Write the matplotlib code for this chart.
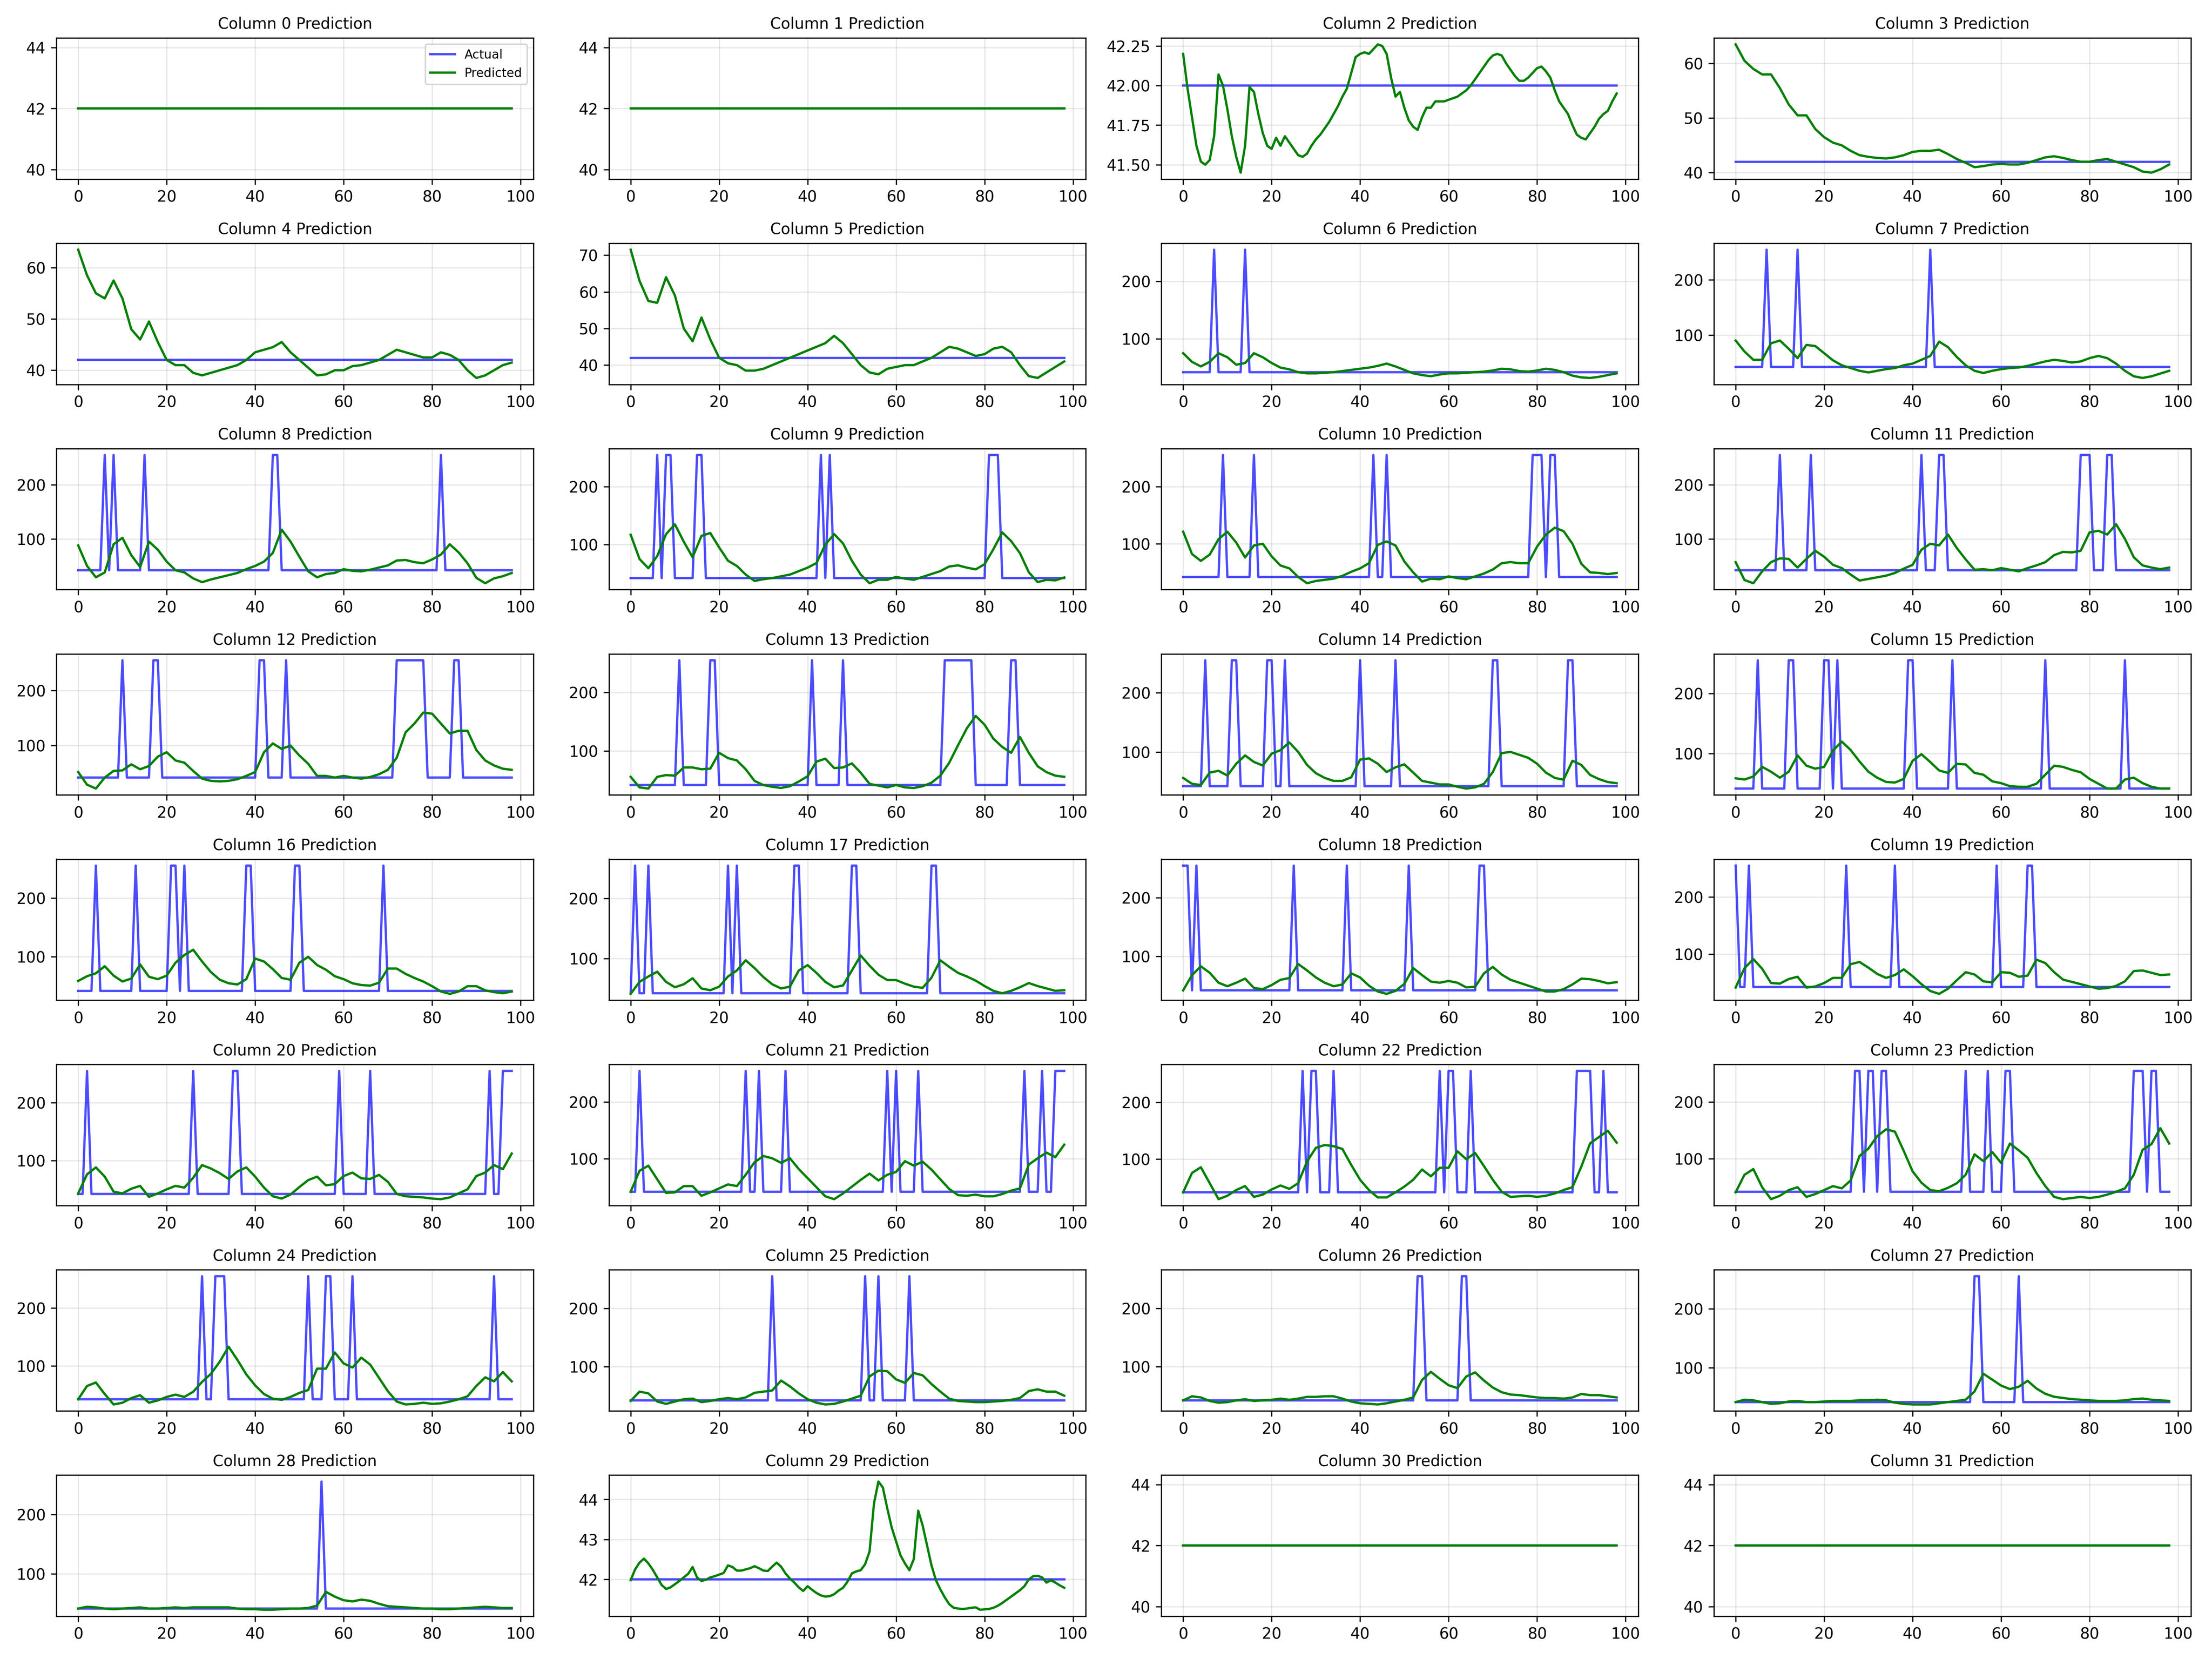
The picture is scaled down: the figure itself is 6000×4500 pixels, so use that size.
import numpy as np
import matplotlib.pyplot as plt


# Series length and the two levels of the "actual" signal
N_STEPS = 99
BASELINE = 42.0
PEAK = 255.0

# Time steps where the actual value jumps to PEAK (everything else is BASELINE)
spikes_00 = []
spikes_01 = []
spikes_02 = []
spikes_03 = []
spikes_04 = []
spikes_05 = []
spikes_06 = [7, 14]
spikes_07 = [7, 14, 44]
spikes_08 = [6, 8, 15, 44, 45, 82]
spikes_09 = [6, 8, 9, 15, 16, 43, 45, 81, 82, 83]
spikes_10 = [9, 16, 43, 46, 79, 80, 81, 83, 84]
spikes_11 = [10, 17, 42, 46, 47, 78, 79, 80, 84, 85]
spikes_12 = [10, 17, 18, 41, 42, 47, 72, 73, 74, 75, 76, 77, 78, 85, 86]
spikes_13 = [11, 18, 19, 41, 48, 71, 72, 73, 74, 75, 76, 77, 86, 87]
spikes_14 = [5, 11, 12, 19, 20, 23, 40, 48, 70, 71, 87, 88]
spikes_15 = [5, 12, 13, 20, 21, 23, 39, 40, 49, 70, 88]
spikes_16 = [4, 13, 21, 22, 24, 38, 39, 49, 50, 69]
spikes_17 = [1, 4, 22, 24, 37, 38, 50, 51, 68, 69]
spikes_18 = [0, 1, 3, 25, 37, 51, 67, 68]
spikes_19 = [0, 3, 25, 36, 59, 66, 67]
spikes_20 = [2, 26, 35, 36, 59, 66, 93, 96, 97, 98]
spikes_21 = [2, 26, 29, 35, 58, 60, 65, 89, 93, 96, 97, 98]
spikes_22 = [27, 29, 30, 34, 58, 60, 61, 65, 89, 90, 91, 92, 95]
spikes_23 = [27, 28, 30, 31, 33, 34, 52, 57, 61, 62, 90, 91, 92, 94, 95]
spikes_24 = [28, 31, 32, 33, 52, 56, 57, 62, 94]
spikes_25 = [32, 53, 56, 63]
spikes_26 = [53, 54, 63, 64]
spikes_27 = [54, 55, 64]
spikes_28 = [55]
spikes_29 = []
spikes_30 = []
spikes_31 = []

# Predicted values (flat panels: start/end only,
# detailed panels every step, the rest every second step)
pred_00 = [42.0, 42.0]
pred_01 = [42.0, 42.0]
pred_02 = [42.20, 41.98, 41.80, 41.62, 41.52, 41.50, 41.53, 41.68, 42.07, 42.00,
           41.85, 41.68, 41.55, 41.45, 41.62, 41.99, 41.96, 41.82, 41.70, 41.62,
           41.60, 41.67, 41.62, 41.68, 41.64, 41.60, 41.56, 41.55, 41.57, 41.62,
           41.66, 41.69, 41.73, 41.77, 41.82, 41.87, 41.93, 41.98, 42.08, 42.18,
           42.20, 42.21, 42.20, 42.23, 42.26, 42.25, 42.20, 42.05, 41.93, 41.96,
           41.86, 41.78, 41.74, 41.72, 41.80, 41.86, 41.86, 41.90, 41.90, 41.90,
           41.91, 41.92, 41.93, 41.95, 41.97, 42.00, 42.04, 42.08, 42.12, 42.16,
           42.19, 42.20, 42.19, 42.14, 42.10, 42.06, 42.03, 42.03, 42.05, 42.08,
           42.11, 42.12, 42.09, 42.05, 41.97, 41.90, 41.86, 41.82, 41.75, 41.69,
           41.67, 41.66, 41.70, 41.74, 41.79, 41.82, 41.84, 41.90, 41.95]
pred_03 = [63.5, 60.5, 59.0, 58.0, 58.0, 55.5, 52.5, 50.5, 50.5, 48.0,
           46.5, 45.5, 45.0, 44.0, 43.2, 42.9, 42.7, 42.6, 42.8, 43.2,
           43.8, 44.0, 44.0, 44.2, 43.4, 42.5, 41.8, 41.0, 41.2, 41.5,
           41.6, 41.5, 41.5, 41.8, 42.3, 42.8, 43.0, 42.7, 42.3, 42.0,
           42.0, 42.3, 42.5, 42.0, 41.5, 41.0, 40.2, 40.0, 40.6, 41.5]
pred_04 = [63.5, 58.5, 55.0, 54.0, 57.5, 54.0, 48.0, 46.0, 49.5, 45.5,
           42.0, 41.0, 41.0, 39.5, 39.0, 39.5, 40.0, 40.5, 41.0, 42.0,
           43.5, 44.0, 44.5, 45.5, 43.5, 42.0, 40.5, 39.0, 39.2, 40.0,
           40.0, 40.8, 41.0, 41.5, 42.0, 43.0, 44.0, 43.5, 43.0, 42.5,
           42.5, 43.5, 43.0, 42.0, 40.0, 38.5, 39.0, 40.0, 41.0, 41.5]
pred_05 = [71.5, 63.0, 57.5, 57.0, 64.0, 59.0, 50.0, 46.5, 53.0, 47.0,
           42.0, 40.5, 40.0, 38.5, 38.5, 39.0, 40.0, 41.0, 42.0, 43.0,
           44.0, 45.0, 46.0, 48.0, 46.0, 43.0, 40.0, 38.0, 37.5, 39.0,
           39.5, 40.0, 40.0, 41.0, 42.0, 43.5, 45.0, 44.5, 43.5, 42.5,
           43.0, 44.5, 45.0, 43.5, 40.0, 37.0, 36.5, 38.0, 39.5, 41.0]
pred_06 = [75, 60, 52, 60, 75, 68, 55, 58, 75, 68,
           58, 50, 47, 42, 40, 40, 41, 42, 44, 46,
           48, 50, 53, 57, 52, 46, 40, 37, 35, 38,
           40, 40, 41, 42, 43, 45, 48, 47, 44, 43,
           45, 48, 46, 42, 36, 33, 32, 34, 37, 40]
pred_07 = [90, 70, 55, 55, 85, 90, 75, 58, 82, 80,
           67, 54, 45, 40, 35, 32, 35, 38, 40, 45,
           48, 55, 62, 88, 78, 60, 45, 35, 31, 35,
           38, 40, 41, 44, 48, 52, 55, 53, 50, 52,
           58, 62, 58, 48, 35, 25, 22, 25, 30, 35]
pred_08 = [88, 50, 29, 38, 90, 102, 70, 48, 95, 80,
           58, 42, 38, 27, 20, 25, 29, 33, 37, 44,
           50, 58, 74, 117, 95, 67, 40, 29, 35, 37,
           44, 41, 40, 43, 47, 51, 60, 61, 57, 55,
           62, 71, 90, 75, 55, 28, 18, 27, 31, 37]
pred_09 = [117, 75, 59, 80, 118, 135, 105, 78, 115, 120,
           95, 72, 63, 48, 37, 40, 42, 45, 48, 54,
           60, 68, 100, 118, 102, 72, 48, 33, 39, 39,
           44, 41, 39, 44, 49, 54, 62, 64, 60, 57,
           66, 92, 121, 106, 85, 52, 35, 39, 38, 43]
pred_10 = [121, 82, 70, 81, 108, 121, 102, 76, 97, 100,
           78, 62, 57, 42, 31, 35, 37, 39, 44, 51,
           57, 66, 98, 104, 97, 69, 50, 34, 39, 38,
           43, 40, 38, 43, 48, 55, 66, 68, 66, 66,
           95, 116, 128, 122, 100, 65, 50, 49, 47, 49]
pred_11 = [57, 24, 18, 40, 57, 64, 63, 47, 63, 78,
           67, 52, 46, 34, 23, 26, 29, 32, 37, 45,
           52, 80, 91, 88, 108, 83, 62, 43, 44, 42,
           46, 43, 40, 46, 51, 57, 70, 76, 75, 78,
           112, 115, 108, 127, 100, 66, 51, 47, 44, 47]
pred_12 = [52, 29, 22, 42, 54, 55, 66, 57, 63, 80,
           88, 73, 69, 54, 40, 36, 35, 36, 39, 45,
           52, 88, 104, 94, 100, 82, 67, 45, 45, 42,
           45, 42, 40, 43, 48, 56, 78, 124, 140, 160,
           158, 140, 122, 127, 127, 92, 73, 64, 58, 56]
pred_13 = [56, 38, 36, 56, 59, 58, 72, 72, 69, 70,
           97, 88, 84, 69, 49, 42, 39, 37, 40, 48,
           57, 82, 87, 71, 72, 79, 63, 44, 41, 38,
           42, 38, 37, 40, 46, 58, 80, 110, 139, 160,
           145, 121, 107, 97, 124, 97, 74, 64, 58, 56]
pred_14 = [56, 46, 44, 65, 68, 60, 80, 94, 83, 77,
           97, 103, 116, 100, 78, 64, 56, 51, 51, 57,
           87, 89, 80, 66, 74, 79, 65, 51, 48, 45,
           45, 41, 38, 40, 46, 66, 98, 100, 95, 90,
           80, 65, 56, 53, 85, 78, 61, 54, 49, 47]
pred_15 = [59, 57, 62, 78, 70, 60, 70, 97, 80, 75,
           78, 105, 120, 106, 87, 70, 60, 53, 52, 58,
           88, 99, 86, 72, 68, 83, 82, 68, 65, 54,
           51, 46, 45, 45, 50, 65, 80, 78, 73, 69,
           58, 50, 42, 42, 57, 60, 51, 45, 42, 42]
pred_16 = [59, 67, 72, 84, 68, 58, 63, 87, 66, 62,
           68, 90, 103, 112, 92, 74, 61, 55, 53, 62,
           97, 92, 79, 64, 61, 90, 100, 86, 78, 67,
           62, 55, 52, 51, 56, 80, 80, 71, 64, 58,
           50, 41, 37, 41, 50, 50, 43, 40, 38, 41]
pred_17 = [41, 61, 70, 78, 61, 52, 57, 67, 50, 47,
           53, 70, 80, 97, 84, 69, 57, 50, 53, 80,
           89, 76, 61, 52, 55, 80, 105, 88, 73, 64,
           64, 58, 53, 51, 68, 97, 86, 76, 70, 63,
           54, 46, 42, 46, 52, 59, 54, 50, 46, 47]
pred_18 = [42, 68, 83, 72, 55, 49, 55, 62, 46, 44,
           51, 60, 63, 87, 76, 64, 55, 49, 52, 71,
           64, 50, 40, 36, 41, 53, 80, 68, 57, 55,
           58, 55, 47, 48, 71, 82, 69, 60, 55, 50,
           45, 40, 40, 44, 52, 62, 61, 58, 54, 56]
pred_19 = [41, 75, 91, 74, 49, 48, 56, 60, 41, 43,
           49, 58, 58, 82, 86, 76, 65, 58, 63, 73,
           61, 47, 35, 30, 39, 54, 68, 64, 52, 50,
           68, 67, 60, 62, 90, 84, 68, 55, 51, 47,
           43, 39, 40, 44, 52, 70, 71, 67, 63, 64]
pred_20 = [43, 76, 88, 72, 46, 43, 51, 56, 37, 43,
           50, 56, 53, 70, 92, 86, 78, 68, 81, 88,
           72, 53, 38, 34, 41, 54, 66, 72, 57, 59,
           73, 79, 69, 68, 75, 63, 42, 38, 37, 36,
           34, 33, 36, 43, 50, 73, 79, 92, 85, 112]
pred_21 = [42, 79, 88, 64, 40, 41, 52, 52, 35, 41,
           48, 55, 52, 72, 94, 105, 101, 93, 101, 82,
           66, 50, 34, 29, 39, 51, 63, 74, 62, 72,
           77, 96, 88, 95, 81, 64, 47, 36, 35, 37,
           34, 34, 38, 44, 48, 90, 101, 111, 103, 125]
pred_22 = [42, 76, 86, 58, 30, 36, 46, 53, 34, 38,
           47, 54, 48, 58, 96, 120, 125, 123, 118, 90,
           64, 46, 33, 33, 42, 52, 64, 82, 70, 85,
           85, 114, 100, 111, 88, 64, 43, 34, 35, 36,
           34, 36, 40, 46, 51, 87, 128, 139, 150, 129]
pred_23 = [41, 72, 82, 50, 29, 35, 45, 50, 33, 38,
           45, 52, 48, 62, 105, 118, 140, 152, 148, 114,
           78, 58, 45, 43, 49, 57, 72, 108, 96, 112,
           93, 127, 115, 102, 75, 52, 33, 29, 31, 33,
           31, 33, 37, 42, 48, 72, 116, 126, 154, 127]
pred_24 = [42, 65, 71, 51, 33, 36, 44, 49, 36, 40,
           46, 50, 46, 55, 72, 86, 107, 133, 110, 85,
           66, 51, 43, 41, 46, 53, 58, 95, 95, 123,
           104, 97, 114, 102, 79, 56, 38, 33, 34, 36,
           34, 35, 38, 42, 47, 65, 80, 73, 89, 73]
pred_25 = [41, 57, 54, 40, 36, 40, 44, 45, 39, 41,
           44, 46, 44, 47, 55, 57, 59, 76, 66, 54,
           44, 38, 35, 36, 40, 45, 50, 83, 93, 92,
           78, 72, 89, 85, 70, 57, 45, 41, 40, 39,
           39, 40, 41, 43, 46, 58, 61, 57, 57, 50]
pred_26 = [42, 49, 47, 41, 38, 39, 42, 44, 41, 42,
           43, 45, 43, 45, 48, 48, 49, 49, 45, 40,
           37, 36, 35, 37, 40, 43, 47, 77, 91, 79,
           68, 63, 83, 90, 76, 64, 56, 52, 51, 49,
           47, 46, 46, 45, 47, 53, 51, 51, 49, 47]
pred_27 = [42, 46, 45, 42, 39, 40, 43, 44, 42, 42,
           43, 44, 44, 44, 45, 45, 46, 45, 41, 39,
           38, 38, 38, 40, 42, 44, 46, 60, 90, 80,
           70, 64, 68, 78, 65, 56, 51, 49, 47, 46,
           45, 44, 44, 44, 45, 47, 48, 46, 45, 44]
pred_28 = [42, 45, 44, 42, 41, 42, 43, 44, 42, 42,
           43, 44, 43, 44, 44, 44, 44, 44, 42, 41,
           41, 40, 40, 41, 42, 42, 43, 47, 70, 62,
           56, 54, 57, 55, 50, 46, 45, 44, 43, 42,
           42, 41, 41, 42, 43, 44, 45, 44, 43, 43]
pred_29 = [41.98, 42.25, 42.42, 42.52, 42.40, 42.24, 42.05, 41.86, 41.76, 41.80,
           41.88, 41.96, 42.05, 42.14, 42.31, 42.05, 41.96, 41.99, 42.05, 42.08,
           42.12, 42.16, 42.35, 42.31, 42.22, 42.22, 42.25, 42.28, 42.33, 42.28,
           42.22, 42.21, 42.32, 42.42, 42.32, 42.15, 42.02, 41.92, 41.80, 41.71,
           41.83, 41.74, 41.66, 41.60, 41.57, 41.58, 41.63, 41.72, 41.79, 41.94,
           42.15, 42.20, 42.23, 42.38, 42.70, 43.90, 44.45, 44.30, 43.78, 43.30,
           42.95, 42.60, 42.40, 42.23, 42.51, 43.72, 43.35, 42.85, 42.35, 41.98,
           41.75, 41.55, 41.38, 41.29, 41.27, 41.26, 41.27, 41.29, 41.30, 41.24,
           41.25, 41.26, 41.29, 41.34, 41.41, 41.49, 41.57, 41.65, 41.73, 41.83,
           42.00, 42.08, 42.09, 42.05, 41.92, 41.98, 41.92, 41.85, 41.79]
pred_30 = [42.0, 42.0]
pred_31 = [42.0, 42.0]

spikes = [spikes_00, spikes_01, spikes_02, spikes_03, spikes_04, spikes_05,
          spikes_06, spikes_07, spikes_08, spikes_09, spikes_10, spikes_11,
          spikes_12, spikes_13, spikes_14, spikes_15, spikes_16, spikes_17,
          spikes_18, spikes_19, spikes_20, spikes_21, spikes_22, spikes_23,
          spikes_24, spikes_25, spikes_26, spikes_27, spikes_28, spikes_29,
          spikes_30, spikes_31]

predicted = [pred_00, pred_01, pred_02, pred_03, pred_04, pred_05,
             pred_06, pred_07, pred_08, pred_09, pred_10, pred_11,
             pred_12, pred_13, pred_14, pred_15, pred_16, pred_17,
             pred_18, pred_19, pred_20, pred_21, pred_22, pred_23,
             pred_24, pred_25, pred_26, pred_27, pred_28, pred_29,
             pred_30, pred_31]


fig, axes = plt.subplots(8, 4, figsize=(20, 15))

steps = np.arange(N_STEPS)

for i, ax in enumerate(axes.flat):
    actual = np.full(N_STEPS, BASELINE)
    actual[np.array(spikes[i], dtype=int)] = PEAK

    pred = np.asarray(predicted[i], dtype=float)
    pred_steps = np.linspace(0, N_STEPS - 1, len(pred))

    ax.plot(steps, actual, color="blue", alpha=0.7, label="Actual")
    ax.plot(pred_steps, pred, color="green", label="Predicted")

    ax.set_title(f"Column {i} Prediction", fontsize=10)
    ax.grid(True, alpha=0.3)

    if i == 0:
        ax.legend(loc="upper right", fontsize=8)

plt.tight_layout()
plt.savefig("out.png", dpi=300)
plt.close(fig)
